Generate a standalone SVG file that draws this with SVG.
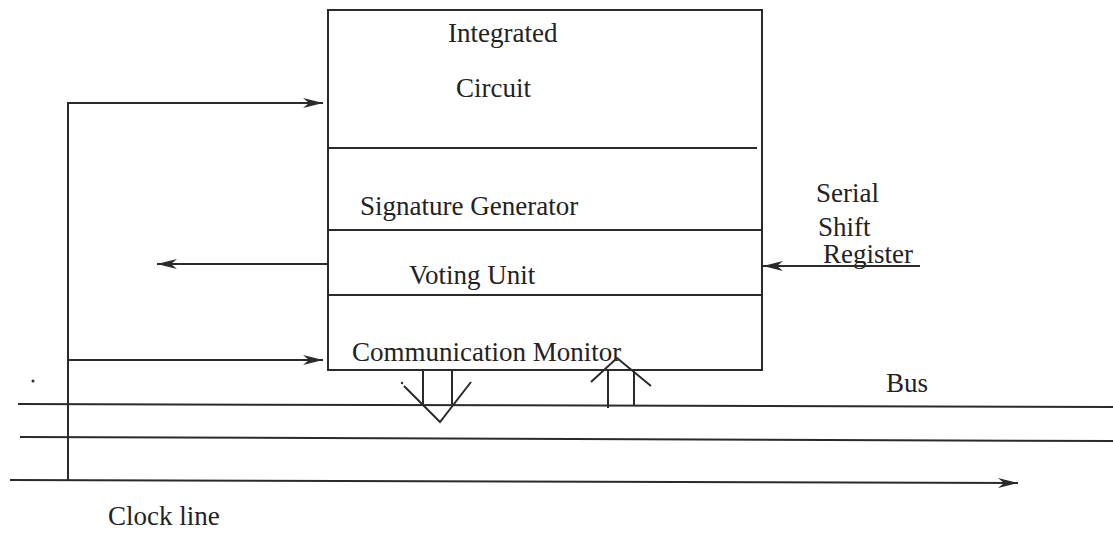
<svg xmlns="http://www.w3.org/2000/svg" width="1113" height="538" viewBox="0 0 1113 538">
<defs>
<marker id="ah" viewBox="0 0 20 12" refX="20" refY="6" markerWidth="20" markerHeight="12" markerUnits="userSpaceOnUse" orient="auto">
<path d="M0,1 L20,6 L0,11 L6,6 Z" fill="#2a2a2a"/>
</marker>
<style>
.ln{stroke:#2a2a2a;stroke-width:2;fill:none}
.t{font-family:"Liberation Serif","Times New Roman",serif;font-size:27px;fill:#222}
</style>
</defs>
<rect width="1113" height="538" fill="#fff"/>
<g id="ic">
<rect x="328" y="10" width="434" height="360" class="ln"/>
<line x1="328" y1="148" x2="757" y2="148" class="ln"/>
<line x1="328" y1="230" x2="762" y2="230" class="ln"/>
<line x1="328" y1="295" x2="762" y2="295" class="ln"/>
<text class="t" x="448" y="42">Integrated</text>
<text class="t" x="456" y="97">Circuit</text>
<text class="t" x="360" y="215">Signature Generator</text>
<text class="t" x="409" y="284">Voting Unit</text>
<text class="t" x="352" y="361">Communication Monitor</text>
</g>
<g id="labels">
<text class="t" x="816" y="202">Serial</text>
<text class="t" x="818" y="236">Shift</text>
<text class="t" x="823" y="263">Register</text>
<text class="t" x="886" y="392">Bus</text>
<text class="t" x="108" y="525">Clock line</text>
</g>
<g id="connectors">
<line x1="18" y1="404" x2="1113" y2="407" class="ln"/>
<line x1="20" y1="437" x2="1113" y2="441" class="ln"/>
<line x1="10" y1="480" x2="1018" y2="483" class="ln" marker-end="url(#ah)"/>
<line x1="68" y1="102" x2="68" y2="481" class="ln"/>
<line x1="68" y1="103" x2="323" y2="103" class="ln" marker-end="url(#ah)"/>
<line x1="68" y1="360" x2="323" y2="360" class="ln" marker-end="url(#ah)"/>
<line x1="327" y1="264" x2="157" y2="264" class="ln" marker-end="url(#ah)"/>
<line x1="920" y1="266" x2="763" y2="266" class="ln" marker-end="url(#ah)"/>
<line x1="423" y1="370" x2="423" y2="404" class="ln"/>
<line x1="452" y1="370" x2="452" y2="404" class="ln"/>
<polyline points="404,386 440,422 471,382" class="ln"/>
<line x1="608" y1="370" x2="608" y2="408" class="ln"/>
<line x1="634" y1="370" x2="634" y2="406" class="ln"/>
<polyline points="591,382 617,358 651,386" class="ln"/>
<circle cx="33" cy="381" r="1.5" fill="#2a2a2a"/>
<circle cx="402" cy="383" r="1.2" fill="#2a2a2a"/>
</g>
</svg>
